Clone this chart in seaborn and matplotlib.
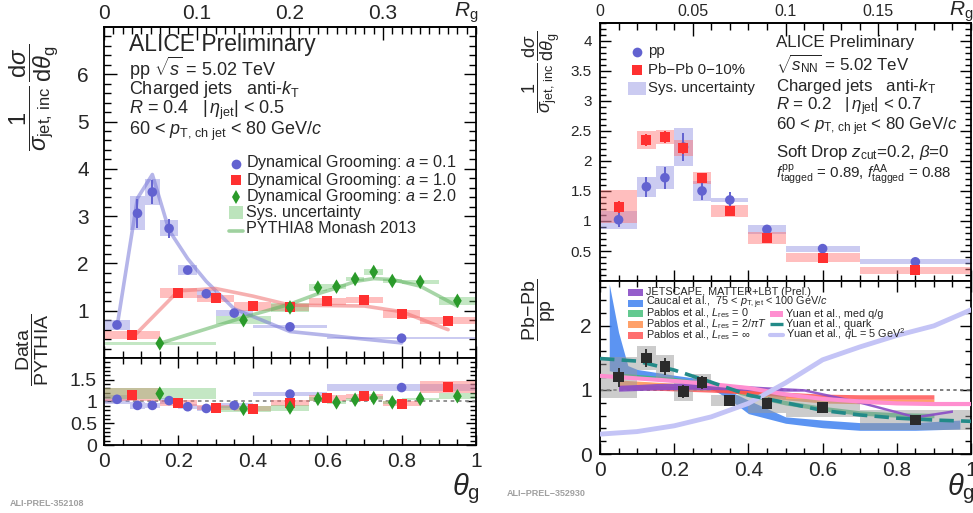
import numpy as np
import matplotlib
matplotlib.use("Agg")
import matplotlib.pyplot as plt
from matplotlib.lines import Line2D
from matplotlib.patches import Rectangle
from matplotlib.ticker import MultipleLocator, FixedLocator, FuncFormatter
import seaborn as sns

sns.set_theme(style="white")
plt.rcParams["font.family"] = ["Liberation Sans", "DejaVu Sans"]
plt.rcParams["mathtext.fontset"] = "custom"
plt.rcParams["mathtext.rm"] = "Liberation Sans"
plt.rcParams["mathtext.it"] = "Liberation Sans:italic"
plt.rcParams["mathtext.bf"] = "Liberation Sans:bold"
plt.rcParams["mathtext.sf"] = "Liberation Sans"

# ---------------- left: dynamical grooming, pp, R = 0.4 ----------------
a01_edges = [0.0, 0.07, 0.11, 0.15, 0.20, 0.25, 0.30, 0.40, 0.60, 1.00]
a01_val = [0.70, 3.06, 3.51, 2.74, 1.86, 1.36, 0.95, 0.66, 0.42]
a01_stat = [0.04, 0.30, 0.26, 0.20, 0.07, 0.08, 0.05, 0.03, 0.02]
a01_sys = [0.10, 0.36, 0.27, 0.17, 0.10, 0.08, 0.07, 0.03, 0.02]
a01_pythia = [0.66, 3.38, 3.88, 2.70, 2.10, 1.62, 1.04, 0.56, 0.32]
a01_ratio = [1.05, 0.91, 0.91, 1.02, 0.88, 0.84, 0.91, 1.17, 1.32]
a01_ratio_sys = [0.10, 0.08, 0.06, 0.07, 0.06, 0.06, 0.06, 0.05, 0.09]

a10_edges = [0.0, 0.15, 0.25, 0.35, 0.45, 0.55, 0.65, 0.75, 0.85, 1.00]
a10_val = [0.49, 1.37, 1.26, 1.09, 1.07, 1.20, 1.23, 0.93, 0.79]
a10_stat = [0.02, 0.04, 0.04, 0.03, 0.03, 0.03, 0.03, 0.03, 0.03]
a10_sys = [0.08, 0.11, 0.08, 0.09, 0.08, 0.07, 0.07, 0.09, 0.08]
a10_pythia = [0.42, 1.42, 1.47, 1.31, 1.12, 1.11, 1.10, 0.98, 0.60]
a10_ratio = [1.15, 0.96, 0.86, 0.83, 0.96, 1.08, 1.12, 0.95, 1.33]
a10_ratio_sys = [0.15, 0.07, 0.06, 0.06, 0.07, 0.06, 0.06, 0.06, 0.13]

a20_edges = [0.0, 0.30, 0.45, 0.55, 0.60, 0.65, 0.70, 0.75, 0.80, 0.90, 1.00]
a20_val = [0.31, 0.80, 1.07, 1.49, 1.51, 1.67, 1.82, 1.63, 1.61, 1.21]
a20_stat = [0.03, 0.06, 0.07, 0.07, 0.08, 0.09, 0.10, 0.09, 0.05, 0.07]
a20_sys = [0.03, 0.09, 0.09, 0.08, 0.06, 0.04, 0.07, 0.05, 0.04, 0.09]
a20_pythia = [0.31, 0.86, 1.14, 1.36, 1.48, 1.62, 1.68, 1.66, 1.52, 1.10]
a20_ratio = [1.18, 0.83, 0.86, 1.06, 0.98, 1.04, 1.08, 0.98, 1.06, 1.12]
a20_ratio_sys = [0.12, 0.07, 0.07, 0.05, 0.04, 0.03, 0.05, 0.04, 0.03, 0.07]

# ---------------- right: soft drop, pp vs Pb-Pb, R = 0.2 ----------------
sd_edges = [0.0, 0.10, 0.15, 0.20, 0.25, 0.30, 0.40, 0.50, 0.70, 1.00]
pp_val = [1.02, 1.57, 1.72, 2.23, 1.50, 1.35, 0.86, 0.54, 0.32]
pp_stat = [0.12, 0.17, 0.18, 0.24, 0.15, 0.14, 0.04, 0.03, 0.02]
pp_sys = [0.15, 0.17, 0.19, 0.31, 0.17, 0.04, 0.07, 0.05, 0.04]
pbpb_val = [1.24, 2.35, 2.40, 2.21, 1.71, 1.17, 0.71, 0.39, 0.18]
pbpb_stat = [0.10, 0.10, 0.10, 0.10, 0.08, 0.06, 0.04, 0.03, 0.02]
pbpb_sys = [0.28, 0.15, 0.12, 0.13, 0.10, 0.10, 0.10, 0.08, 0.06]
raa_val = [1.20, 1.50, 1.37, 0.97, 1.12, 0.84, 0.79, 0.72, 0.53]
raa_stat = [0.15, 0.14, 0.13, 0.10, 0.10, 0.04, 0.04, 0.03, 0.03]
raa_sys = [0.32, 0.19, 0.18, 0.14, 0.13, 0.085, 0.15, 0.14, 0.16]

# model curves for the Pb-Pb/pp ratio
jetscape_x = [0.05, 0.15, 0.25, 0.35, 0.45, 0.55, 0.70, 0.85, 0.95]
jetscape_lo = [0.98, 1.00, 1.01, 1.00, 0.98, 0.98, 0.79, 0.56, 0.65]
jetscape_hi = [1.07, 1.10, 1.11, 1.08, 1.05, 1.02, 0.83, 0.60, 0.69]
caucal_x = [0.025, 0.05, 0.075, 0.10, 0.20, 0.30, 0.35, 0.40, 0.50, 0.60, 0.70, 0.85, 0.97]
caucal_lo = [1.30, 1.27, 1.22, 1.20, 1.13, 1.02, 0.85, 0.63, 0.48, 0.41, 0.37, 0.37, 0.39]
caucal_hi = [2.65, 1.90, 1.38, 1.32, 1.23, 1.15, 0.98, 0.84, 0.58, 0.53, 0.49, 0.49, 0.53]
pablos_x = [0.05, 0.20, 0.30, 0.40, 0.50, 0.60, 0.70, 0.80, 0.90]
pablos0_mid = [1.23, 1.16, 1.08, 0.93, 0.80, 0.71, 0.64, 0.61, 0.60]
pablos2_mid = [1.12, 1.07, 1.03, 0.96, 0.88, 0.83, 0.82, 0.82, 0.82]
pablosinf_mid = [1.05, 1.02, 1.00, 0.97, 0.93, 0.90, 0.89, 0.89, 0.89]
pablos_half = [0.035, 0.035, 0.035, 0.035, 0.035, 0.035, 0.035, 0.035, 0.035]
yuan_x = [0.0, 0.1, 0.2, 0.3, 0.4, 0.5, 0.6, 0.7, 0.8, 0.9, 1.0]
yuan_mix = [1.22, 1.18, 1.14, 1.09, 1.03, 0.93, 0.86, 0.82, 0.79, 0.78, 0.78]
yuan_quark = [1.49, 1.45, 1.31, 1.12, 0.92, 0.80, 0.68, 0.61, 0.56, 0.53, 0.51]
yuan_qhat = [0.31, 0.35, 0.44, 0.58, 0.79, 1.11, 1.47, 1.67, 1.85, 2.00, 2.25]

# tick values of the groomed-radius axes
rg_ticks_r04 = [0.0, 0.1, 0.2, 0.3]
rg_ticks_r02 = [0.0, 0.05, 0.10, 0.15]

# ---------------- colours ----------------
C_BLUE = "#6262d0"
C_RED = "#ff3030"
C_GREEN = "#2a9a2a"
C_BLUE_BOX = "#8c8ce0"
C_RED_BOX = "#ff7070"
C_GREEN_BOX = "#6cc46c"

W, H = 973, 513
fig = plt.figure(figsize=(W / 100, H / 100), dpi=100)


def fx(px):
    return px / W


def fy(py):
    return 1 - py / H


def axes_px(x0, x1, y0, y1):
    return fig.add_axes([fx(x0), fy(y1), fx(x1) - fx(x0), fy(y0) - fy(y1)])


def centers_widths(edges):
    e = np.asarray(edges)
    return (e[1:] + e[:-1]) / 2, np.diff(e)


def fmt(v, p):
    return f"{v:g}"


def frame(ax, xmaj, xmin, ymaj, ymin, top=True, labelbottom=False,
          ysize=14, xsize=14, ypad=4, xpad=4, majlen=9, minlen=5):
    ax.xaxis.set_major_locator(MultipleLocator(xmaj))
    ax.xaxis.set_minor_locator(MultipleLocator(xmin))
    ax.yaxis.set_major_locator(MultipleLocator(ymaj))
    ax.yaxis.set_minor_locator(MultipleLocator(ymin))
    ax.xaxis.set_major_formatter(FuncFormatter(fmt))
    ax.yaxis.set_major_formatter(FuncFormatter(fmt))
    ax.tick_params(which="both", direction="in", top=top, bottom=True,
                   left=True, right=True, width=1.0, color="black")
    ax.tick_params(which="major", length=majlen)
    ax.tick_params(which="minor", length=minlen)
    ax.tick_params(axis="x", labelbottom=labelbottom, labelsize=xsize, pad=xpad)
    ax.tick_params(axis="y", labelsize=ysize, pad=ypad)
    for sp in ax.spines.values():
        sp.set_linewidth(1.3)
        sp.set_color("black")
    ax.set_xlabel("")
    ax.set_ylabel("")


def top_rg(ax, R, ticks, size):
    sec = ax.secondary_xaxis("top", functions=(lambda t: t * R, lambda r: r / R))
    sec.xaxis.set_major_locator(FixedLocator(ticks))
    sec.xaxis.set_minor_locator(MultipleLocator(0.01))
    sec.xaxis.set_major_formatter(FuncFormatter(fmt))
    sec.tick_params(which="both", direction="in", width=1.0, color="black")
    sec.tick_params(which="major", length=9, labelsize=size, pad=3)
    sec.tick_params(which="minor", length=5)
    sec.spines["top"].set_linewidth(1.3)
    return sec


def sys_boxes(ax, edges, val, sys, color, alpha):
    c, w = centers_widths(edges)
    v = np.asarray(val)
    s = np.asarray(sys)
    ax.bar(c, 2 * s, bottom=v - s, width=w, color=color, alpha=alpha,
           linewidth=0, align="center", zorder=2)


def points(ax, edges, val, err, color, marker, size, ecolor=None):
    c, _ = centers_widths(edges)
    ax.errorbar(c, val, yerr=err, fmt="none", ecolor=ecolor or color,
                elinewidth=1.4, capsize=0, zorder=4)
    sns.scatterplot(x=c, y=val, ax=ax, color=color, marker=marker, s=size,
                    edgecolor="none", linewidth=0, zorder=5, legend=False)


def model_line(ax, edges, val, color):
    c, _ = centers_widths(edges)
    sns.lineplot(x=c, y=val, ax=ax, color=color, lw=2.6, alpha=0.55,
                 zorder=3, legend=False)


# ======================= left top =======================
axL = axes_px(104, 476, 27, 358)
sys_boxes(axL, a01_edges, a01_val, a01_sys, C_BLUE_BOX, 0.45)
sys_boxes(axL, a10_edges, a10_val, a10_sys, C_RED_BOX, 0.45)
sys_boxes(axL, a20_edges, a20_val, a20_sys, C_GREEN_BOX, 0.40)
model_line(axL, a01_edges, a01_pythia, "#7878d8")
model_line(axL, a10_edges, a10_pythia, "#f07070")
model_line(axL, a20_edges, a20_pythia, "#5fb35f")
points(axL, a01_edges, a01_val, a01_stat, C_BLUE, "o", 48)
points(axL, a10_edges, a10_val, a10_stat, C_RED, "s", 52)
points(axL, a20_edges, a20_val, a20_stat, C_GREEN, "d", 55)
axL.set_xlim(0, 1)
axL.set_ylim(0.001, 6.999)
frame(axL, 0.2, 0.05, 1, 0.2, top=False, ysize=15, ypad=11)
top_rg(axL, 0.4, rg_ticks_r04, 15)

# ======================= left ratio =======================
axLr = axes_px(104, 476, 358, 445)
axLr.axhline(1, color="#8a8a8a", ls=(0, (2, 2)), lw=1.3, zorder=1)
sys_boxes(axLr, a01_edges, a01_ratio, a01_ratio_sys, C_BLUE_BOX, 0.45)
sys_boxes(axLr, a10_edges, a10_ratio, a10_ratio_sys, C_RED_BOX, 0.45)
sys_boxes(axLr, a20_edges, a20_ratio, a20_ratio_sys, C_GREEN_BOX, 0.40)
points(axLr, a01_edges, a01_ratio, [0.02] * 9, C_BLUE, "o", 48)
points(axLr, a10_edges, a10_ratio, [0.02] * 9, C_RED, "s", 52)
points(axLr, a20_edges, a20_ratio, [0.04] * 10, C_GREEN, "d", 55)
axLr.set_xlim(0, 1)
axLr.set_ylim(0, 1.999)
frame(axLr, 0.2, 0.05, 0.5, 0.1, top=True, labelbottom=True,
      ysize=14, xsize=15, ypad=5, xpad=5, majlen=7, minlen=4)

# ======================= right top =======================
axR = axes_px(600, 971, 22.7, 281)
sys_boxes(axR, sd_edges, pp_val, pp_sys, C_BLUE_BOX, 0.45)
sys_boxes(axR, sd_edges, pbpb_val, pbpb_sys, C_RED_BOX, 0.45)
points(axR, sd_edges, pp_val, pp_stat, C_BLUE, "o", 48)
points(axR, sd_edges, pbpb_val, pbpb_stat, C_RED, "s", 52)
axR.set_xlim(0, 1)
axR.set_ylim(0.001, 4.3)
frame(axR, 0.2, 0.05, 0.5, 0.1, top=False, ysize=11, ypad=6, majlen=8, minlen=4)
top_rg(axR, 0.2, rg_ticks_r02, 11.5)

# ======================= right ratio =======================
axRr = axes_px(600, 971, 281, 454)
axRr.axhline(1, color="#6a6a6a", ls=(0, (2, 2)), lw=1.2, zorder=1)
axRr.fill_between(caucal_x, caucal_lo, caucal_hi, color="#3f82f0",
                  alpha=0.85, lw=0, zorder=2)
jx = np.asarray(pablos_x)
half = np.asarray(pablos_half)
for mid, col in ((pablos0_mid, "#3cbc74"), (pablos2_mid, "#ff8a45"),
                 (pablosinf_mid, "#ff4b4b")):
    m = np.asarray(mid)
    axRr.fill_between(jx, m - half, m + half, color=col, alpha=0.8, lw=0, zorder=2)
axRr.fill_between(jetscape_x, jetscape_lo, jetscape_hi, color="#8a4cc6",
                  alpha=0.9, lw=0, zorder=3)
sns.lineplot(x=yuan_x, y=yuan_mix, ax=axRr, color="#ff8fd0", lw=3, zorder=3)
sns.lineplot(x=yuan_x, y=yuan_qhat, ax=axRr, color="#c4c4f6", lw=3.5, zorder=3)
sys_boxes(axRr, sd_edges, raa_val, raa_sys, "#9a9a9a", 0.5)
sns.lineplot(x=yuan_x, y=yuan_quark, ax=axRr, color="#238a88", lw=2.6,
             zorder=4, dashes=False)
axRr.lines[-1].set_dashes((4, 2))
points(axRr, sd_edges, raa_val, raa_stat, "#2b2b2b", "s", 60, ecolor="#333333")
axRr.set_xlim(0, 1)
axRr.set_ylim(0, 2.7)
frame(axRr, 0.2, 0.05, 1, 0.2, top=True, labelbottom=True,
      ysize=15, xsize=15, ypad=6, xpad=5, majlen=8, minlen=4)

# ======================= text =======================
def ftext(x, y, s, size, **kw):
    kw.setdefault("ha", "left")
    kw.setdefault("va", "center")
    fig.text(fx(x), fy(y), s, fontsize=size, **kw)


# left information block
ftext(129, 44, "ALICE Preliminary", 16.5)
ftext(129, 68.5, r"pp $\sqrt{s}$ = 5.02 TeV", 13)
ftext(129, 89, r"Charged jets   anti-$k_{\rm T}$", 13)
ftext(129, 110, r"$R$ = 0.4   $|\,\eta_{\rm jet}|$ < 0.5", 13)
ftext(129, 131, r"60 < $p_{\rm T,\,ch\ jet}$ < 80 GeV/$c$", 13)

# right information block
rs = 12.2
ftext(776, 43, "ALICE Preliminary", rs)
ftext(776, 64, r"$\sqrt{s_{\rm NN}}$ = 5.02 TeV", rs)
ftext(776, 87, r"Charged jets   anti-$k_{\rm T}$", rs)
ftext(776, 107, r"$R$ = 0.2   $|\,\eta_{\rm jet}|$ < 0.7", rs)
ftext(776, 127, r"60 < $p_{\rm T,\,ch\ jet}$ < 80 GeV/$c$", rs)
ftext(776, 152, r"Soft Drop $z_{\rm cut}$=0.2, $\beta$=0", rs)
ftext(776, 174, r"$f^{\rm pp}_{\rm tagged}$ = 0.89, $f^{\rm AA}_{\rm tagged}$ = 0.88", 10.8)

# axis titles
ftext(34, 97, r"$\dfrac{1}{\sigma_{\rm jet,\,inc}}\,\dfrac{{\rm d}\sigma}{{\rm d}\theta_{\rm g}}$",
      17, rotation=90, ha="center")
ftext(33, 350, r"$\dfrac{\rm Data}{\rm PYTHIA}$", 14, rotation=90, ha="center")
ftext(541, 72, r"$\dfrac{1}{\sigma_{\rm jet,\,inc}}\,\dfrac{{\rm d}\sigma}{{\rm d}\theta_{\rm g}}$",
      13, rotation=90, ha="center")
ftext(539, 310, r"$\dfrac{\rm Pb\!-\!Pb}{\rm pp}$", 14, rotation=90, ha="center")
ftext(466, 489, r"$\theta_{\rm g}$", 21, ha="center")
ftext(961, 489, r"$\theta_{\rm g}$", 21, ha="center")
ftext(466, 13, r"$R_{\rm g}$", 15, ha="center")
ftext(961, 12, r"$R_{\rm g}$", 15, ha="center")
ftext(10, 504, "ALI-PREL-352108", 6.5, color="#a0a0a0", weight="bold")
ftext(507, 494, "ALI\u2212PREL\u2212352930", 6.5, color="#a0a0a0", weight="bold")


def key_marker(x, y, marker, color, size):
    fig.add_artist(Line2D([fx(x)], [fy(y)], marker=marker, color=color,
                          markersize=size, markeredgewidth=0, linestyle="none",
                          transform=fig.transFigure))


def key_box(x0, x1, y0, y1, color, alpha=1.0):
    fig.add_artist(Rectangle((fx(x0), fy(y1)), fx(x1) - fx(x0), fy(y0) - fy(y1),
                             color=color, alpha=alpha, lw=0,
                             transform=fig.transFigure))


def key_line(x0, x1, y, color, lw, alpha=1.0, dashes=None):
    ln = Line2D([fx(x0), fx(x1)], [fy(y), fy(y)], color=color, lw=lw, alpha=alpha,
                transform=fig.transFigure)
    if dashes:
        ln.set_dashes(dashes)
    fig.add_artist(ln)


# left legend
key_marker(236, 163.5, "o", C_BLUE, 7)
key_marker(236, 180, "s", C_RED, 7.2)
key_marker(236, 196.5, "d", C_GREEN, 7.5)
key_box(229, 243, 206, 219, C_GREEN_BOX, 0.45)
key_line(229, 243, 230.5, "#5fb35f", 2.6, 0.6)
ftext(246, 163, r"Dynamical Grooming: $a$ = 0.1", 11.6)
ftext(246, 180, r"Dynamical Grooming: $a$ = 1.0", 11.6)
ftext(246, 196.5, r"Dynamical Grooming: $a$ = 2.0", 11.6)
ftext(246, 212.5, "Sys. uncertainty", 11.6)
ftext(246, 228.5, "PYTHIA8 Monash 2013", 11.6)

# right top legend
key_marker(637, 52, "o", C_BLUE, 7)
key_marker(637, 70, "s", C_RED, 7.2)
key_box(628, 646, 82, 95, C_BLUE_BOX, 0.45)
ftext(648, 51.5, "pp", 10.8)
ftext(648, 69.5, "Pb\u2212Pb 0\u221210%", 10.8)
ftext(648, 88, "Sys. uncertainty", 10.8)

# right ratio legend
key_box(628, 643, 289, 296, "#8a4cc6", 0.9)
key_box(628, 643, 299.5, 306.5, "#3f82f0", 0.85)
key_box(628, 643, 310, 317, "#3cbc74", 0.8)
key_box(628, 643, 320.5, 327.5, "#ff8a45", 0.8)
key_box(628, 643, 331.5, 338.5, "#ff4b4b", 0.8)
key_box(770, 783, 310.5, 317, "#ff8fd0")
key_line(770, 783, 324, "#238a88", 2.4, dashes=(4, 2))
key_line(770, 783, 334.5, "#c4c4f6", 3)
lg = 7.8
ftext(646, 292, "JETSCAPE, MATTER+LBT (Prel.)", lg)
ftext(646, 302.5, r"Caucal et al.,  75 < $p_{\rm T,jet}$ < 100 GeV/$c$", lg)
ftext(646, 313.5, r"Pablos et al., $L_{\rm res}$ = 0", lg)
ftext(646, 324, r"Pablos et al., $L_{\rm res}$ = 2/$\pi T$", lg)
ftext(646, 335, r"Pablos et al., $L_{\rm res}$ = $\infty$", lg)
ftext(786, 314, "Yuan et al., med q/g", lg)
ftext(786, 324, "Yuan et al., quark", lg)
ftext(786, 334, r"Yuan et al., $\hat{q}$L = 5 GeV$^2$", lg)

fig.savefig("out.png", dpi=100)
